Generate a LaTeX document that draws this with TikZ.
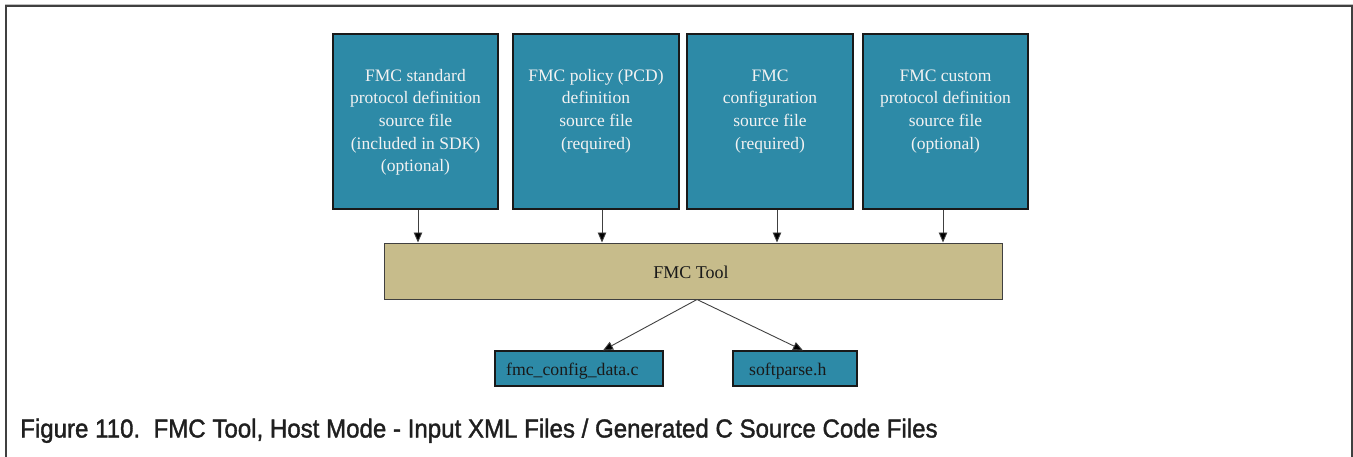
\documentclass[tikz,border=0pt]{standalone}
\usepackage{fontspec}
\setmainfont{Liberation Serif}
\newfontfamily\capfont[FakeBold=1.5]{Liberation Sans}
\usetikzlibrary{arrows.meta}
\definecolor{teal1}{HTML}{2D8AA7}
\definecolor{tan1}{HTML}{C7BC8B}
\definecolor{frame1}{HTML}{404040}
\definecolor{txtlight}{HTML}{F2F2F2}
\tikzset{
  srcbox/.style={draw=black!90, line width=1.3pt, fill=teal1, minimum width=165pt, minimum height=175pt, inner sep=0pt},
  srctext/.style={anchor=base, inner sep=0pt, text=txtlight, font=\fontsize{17.5}{22.7}\selectfont},
  toolbox/.style={draw=black!75, line width=1pt, fill=tan1, minimum width=618pt, minimum height=56pt, inner sep=0pt},
  outbox/.style={draw=black!90, line width=1.2pt, fill=teal1, minimum height=35pt, inner sep=0pt},
  outtext/.style={anchor=base west, inner sep=0pt, text=black!90, font=\fontsize{17.7}{21}\selectfont},
  arr/.style={draw=black!75, line width=0.9pt, -{Triangle[length=10pt,width=8.5pt,fill=black]}},
}
\begin{document}
\begin{tikzpicture}[x=1pt,y=-1pt]
\useasboundingbox (0,0) rectangle (1353,456);
% frame
\draw[black!25, line width=1pt] (5,4) -- (1353,4);
\draw[frame1, line width=2pt] (6,457) -- (6,6) -- (1352,6) -- (1352,457);
% source boxes
\node[srcbox] (b1) at (415.5,121.5) {};
\node[srcbox, minimum width=166pt] (b2) at (596,121.5) {};
\node[srcbox, minimum width=166pt] (b3) at (770,121.5) {};
\node[srcbox] (b4) at (945.5,121.5) {};
\node[srctext] (t1) at (415.5,81) {\parbox[t]{160pt}{\centering FMC standard\\protocol definition\\source file\\(included in SDK)\\(optional)}};
\node[srctext] (t2) at (596,81) {\parbox[t]{160pt}{\centering FMC policy (PCD)\\definition\\source file\\(required)}};
\node[srctext] (t3) at (770,81) {\parbox[t]{160pt}{\centering FMC\\configuration\\source file\\(required)}};
\node[srctext] (t4) at (945.5,81) {\parbox[t]{160pt}{\centering FMC custom\\protocol definition\\source file\\(optional)}};
% tool
\node[toolbox] (tool) at (693,271) {};
\node[anchor=base, inner sep=0pt, text=black!90, font=\fontsize{18}{22}\selectfont] (toolt) at (691,278.3) {FMC Tool};
% outputs
\node[outbox, minimum width=168pt] (o1) at (579,368.5) {};
\node[outbox, minimum width=124pt] (o2) at (795,368.5) {};
\node[outtext] (o1t) at (506,375) {fmc\_config\_data.c};
\node[outtext] (o2t) at (749,375) {softparse.h};
% arrows
\draw[arr] ([xshift=2.5pt]b1.south) -- ([xshift=2.5pt]b1.south |- tool.north);
\draw[arr] ([xshift=6pt]b2.south) -- ([xshift=6pt]b2.south |- tool.north);
\draw[arr] ([xshift=7pt]b3.south) -- ([xshift=7pt]b3.south |- tool.north);
\draw[arr] ([xshift=-2.5pt]b4.south) -- ([xshift=-2.5pt]b4.south |- tool.north);
\coordinate (fork) at ([xshift=4pt]tool.south);
\draw[arr] (fork) -- ([xshift=24pt]o1.north);
\draw[arr] (fork) -- ([xshift=8pt]o2.north);
% caption
\node[anchor=base west, inner sep=0pt, text=black!88, font=\capfont\fontsize{26}{30}\selectfont] (cap) at (20,437.5) {\scalebox{0.926}[1]{Figure 110.\ \ FMC Tool, Host Mode - Input XML Files / Generated C Source Code Files}};
\end{tikzpicture}
\end{document}
